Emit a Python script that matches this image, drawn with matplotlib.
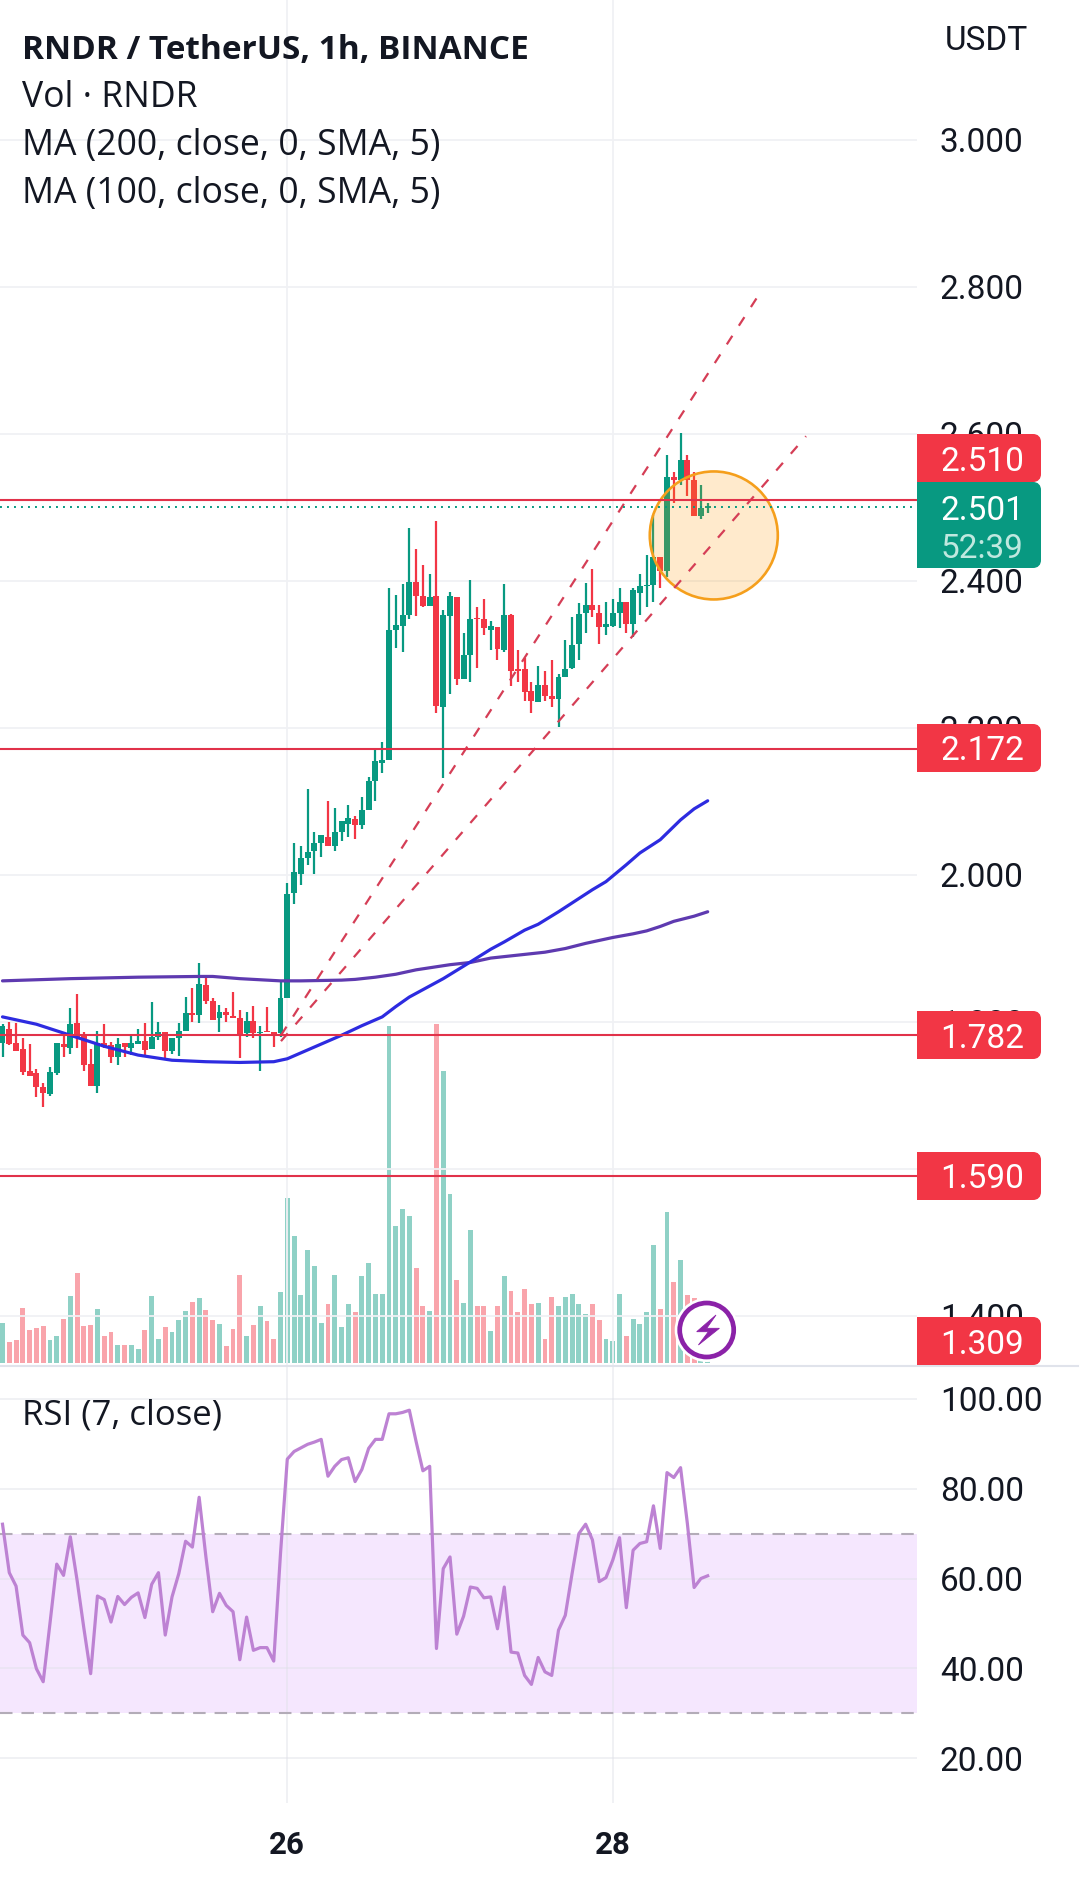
import matplotlib
matplotlib.use("Agg")
import matplotlib.pyplot as plt
from matplotlib.patches import Ellipse, FancyBboxPatch, Rectangle, Circle, Polygon
from matplotlib.transforms import ScaledTranslation

# ---------- data ----------
opens = [1.772,1.791,1.771,1.763,1.733,1.730,1.711,1.702,1.730,1.770,
         1.765,1.798,1.782,1.743,1.713,1.771,1.769,1.753,1.771,1.765,
         1.770,1.774,1.763,1.779,1.786,1.760,1.778,1.788,1.812,1.809,
         1.850,1.828,1.805,1.814,1.808,1.806,1.785,1.802,1.785,1.788,
         1.786,1.785,1.832,1.975,2.002,2.023,2.033,2.044,2.052,2.040,
         2.058,2.070,2.076,2.068,2.088,2.128,2.153,2.156,2.333,2.339,
         2.354,2.398,2.379,2.366,2.380,2.229,2.353,2.378,2.267,2.299,
         2.349,2.348,2.334,2.337,2.306,2.354,2.280,2.280,2.250,2.236,
         2.258,2.244,2.239,2.269,2.281,2.314,2.356,2.368,2.357,2.337,
         2.339,2.356,2.371,2.341,2.384,2.393,2.394,2.433,2.413,2.541,
         2.537,2.564,2.538,2.488,2.500]
closes = [1.794,1.770,1.761,1.732,1.727,1.711,1.703,1.732,1.771,1.766,
          1.797,1.779,1.742,1.713,1.772,1.766,1.753,1.770,1.766,1.771,
          1.774,1.762,1.779,1.786,1.761,1.778,1.788,1.812,1.809,1.852,
          1.828,1.803,1.814,1.809,1.806,1.782,1.802,1.785,1.787,1.786,
          1.781,1.832,1.974,2.004,2.023,2.031,2.044,2.054,2.039,2.058,
          2.074,2.077,2.068,2.088,2.128,2.155,2.157,2.334,2.340,2.354,
          2.399,2.379,2.366,2.378,2.230,2.354,2.380,2.267,2.299,2.349,
          2.348,2.336,2.339,2.307,2.354,2.278,2.278,2.249,2.237,2.258,
          2.243,2.239,2.269,2.280,2.313,2.355,2.368,2.360,2.338,2.341,
          2.356,2.372,2.341,2.388,2.393,2.395,2.432,2.414,2.541,2.538,
          2.565,2.538,2.488,2.499,2.502]
highs = [1.797,1.800,1.798,1.778,1.770,1.736,1.717,1.739,1.771,1.787,
         1.819,1.838,1.786,1.763,1.788,1.797,1.773,1.778,1.771,1.782,
         1.790,1.798,1.827,1.800,1.786,1.778,1.798,1.834,1.846,1.880,
         1.864,1.833,1.823,1.819,1.841,1.817,1.813,1.822,1.794,1.820,
         1.786,1.855,1.989,2.043,2.039,2.117,2.058,2.054,2.101,2.091,
         2.074,2.095,2.080,2.106,2.134,2.172,2.181,2.390,2.381,2.396,
         2.472,2.443,2.422,2.410,2.481,2.360,2.385,2.378,2.329,2.401,
         2.364,2.375,2.346,2.337,2.396,2.355,2.306,2.295,2.262,2.284,
         2.278,2.292,2.273,2.320,2.351,2.370,2.397,2.416,2.368,2.372,
         2.375,2.390,2.372,2.390,2.409,2.436,2.490,2.433,2.571,2.549,
         2.601,2.571,2.549,2.531,2.506]
lows = [1.752,1.769,1.760,1.728,1.727,1.698,1.685,1.700,1.728,1.753,
        1.756,1.764,1.734,1.713,1.703,1.765,1.744,1.742,1.752,1.755,
        1.770,1.753,1.763,1.776,1.748,1.756,1.754,1.788,1.800,1.798,
        1.824,1.803,1.787,1.800,1.806,1.751,1.779,1.778,1.734,1.786,
        1.766,1.779,1.832,1.961,1.986,2.014,2.002,2.025,2.039,2.032,
        2.046,2.052,2.049,2.063,2.088,2.101,2.139,2.156,2.309,2.304,
        2.348,2.353,2.364,2.366,2.221,2.132,2.246,2.259,2.267,2.263,
        2.282,2.327,2.306,2.293,2.303,2.257,2.263,2.237,2.221,2.236,
        2.237,2.228,2.202,2.269,2.280,2.292,2.329,2.351,2.314,2.326,
        2.337,2.336,2.329,2.324,2.354,2.365,2.372,2.391,2.406,2.506,
        2.531,2.516,2.488,2.484,2.492]
volumes = [40,21,23,55,33,35,37,23,27,44,67,90,37,38,54,27,31,18,18,18,
           14,33,67,24,36,31,43,52,61,65,53,43,39,17,34,88,27,38,57,42,
           24,71,165,127,68,113,97,40,59,88,36,59,51,87,100,69,69,337,137,154,
           147,95,57,52,339,292,169,83,60,133,57,57,32,57,87,72,51,74,59,60,
           24,66,57,66,69,59,49,59,43,24,22,69,27,44,39,51,118,54,151,81,
           103,68,65,10,2]
rsi = [72.1,61.3,58.3,47.4,45.7,39.9,37.0,50.0,63.2,60.7,
       69.3,59.6,48.9,38.8,56.1,55.3,50.3,56.0,54.2,55.8,
       56.8,51.3,58.7,61.3,47.4,55.9,61.1,68.3,67.0,78.1,
       64.8,52.6,56.7,54.0,52.6,41.9,51.4,44.0,44.6,44.6,
       41.6,65.6,86.6,88.3,89.1,89.9,90.4,91.0,82.8,85.0,
       86.5,86.9,81.6,84.3,89.0,91.0,91.0,96.7,96.7,97.0,
       97.5,90.5,84.0,85.0,44.4,62.2,64.8,47.6,51.6,58.1,
       57.8,55.7,55.9,48.8,58.1,43.6,43.4,38.4,36.4,42.4,
       39.2,38.4,48.5,51.8,61.1,70.0,72.1,68.6,59.3,60.2,
       64.1,69.1,53.5,66.3,67.8,68.2,76.2,66.7,83.6,82.5,
       84.7,72.3,58.0,60.0,60.6]
ma100_idx = [0,5,10,15,20,25,30,35,40,42,45,50,53,56,58,60,62,65,68,72,74,77,79,82,84,87,89,92,94,97,98,100,102,104]
ma100 = [1.807,1.797,1.782,1.767,1.755,1.748,1.746,1.745,1.746,1.750,1.762,1.782,1.795,1.807,
         1.821,1.834,1.844,1.859,1.876,1.899,1.909,1.925,1.933,1.950,1.962,1.980,1.991,2.014,
         2.030,2.048,2.057,2.075,2.090,2.101]
ma200_idx = [0,10,20,29,31,35,41,44,50,52,55,58,61,66,69,72,76,80,83,86,90,93,95,97,99,102,104]
ma200 = [1.856,1.859,1.861,1.862,1.862,1.859,1.856,1.856,1.857,1.858,1.861,1.865,1.871,1.878,
         1.881,1.887,1.891,1.895,1.900,1.907,1.915,1.920,1.924,1.930,1.937,1.944,1.950]
trend_upper_idx = [41.07,112.0]
trend_upper = [1.782,2.796]
trend_lower_idx = [41.07,118.5]
trend_lower = [1.774,2.597]
circle_center = (104.9,2.462)
levels = [2.510,2.172,1.782,1.590]
last_price = 2.501
price_ticks = [3.0,2.8,2.6,2.4,2.2,2.0,1.8,1.6,1.4]
rsi_ticks = [100,80,60,40,20]
rsi_band = [30,70]
date_idx = [42,90]
date_labels = ["26","28"]
legend_lines = ["Vol · RNDR","MA (200, close, 0, SMA, 5)","MA (100, close, 0, SMA, 5)"]

UP, DOWN = "#089981", "#F23645"
GRID = "#f0f1f4"
INK = "#131722"
W, H = 1080, 1882
PANE_R, SEP, PANE_B = 917, 1366, 1803

fig = plt.figure(figsize=(W/100, H/100), dpi=100, facecolor="white")
def rect(top, bottom):
    return [0, 1-bottom/H, PANE_R/W, (bottom-top)/H]

XLIM = (-0.37, 134.87)
ax_vol = fig.add_axes(rect(0, SEP), zorder=1)
ax = fig.add_axes(rect(0, SEP), zorder=2)
ax_rsi = fig.add_axes(rect(SEP, PANE_B), zorder=2)
top = fig.add_axes([0, 0, 1, 1], zorder=5)
top.set_xlim(0, W); top.set_ylim(H, 0); top.axis("off"); top.patch.set_alpha(0)

# volume
ax_vol.set_xlim(*XLIM); ax_vol.set_ylim(-3.3, 1362.7); ax_vol.axis("off")
xs = list(range(len(opens)))
colors = [UP if c >= o else DOWN for o, c in zip(opens, closes)]
ax_vol.bar(xs, volumes, width=0.72, color=colors, alpha=0.45, linewidth=0)

# price pane
ax.set_xlim(*XLIM); ax.set_ylim(1.3320, 3.1905); ax.patch.set_alpha(0)
for s in ax.spines.values(): s.set_visible(False)
ax.yaxis.tick_right(); ax.set_yticks(price_ticks)
ax.set_yticklabels([f"{t:.3f}" for t in price_ticks], fontfamily="Roboto", fontsize=24, color=INK)
ax.tick_params(axis="y", length=0, pad=16.5)
for lb in ax.get_yticklabels():
    lb.set_transform(lb.get_transform() + ScaledTranslation(0, 1/100, fig.dpi_scale_trans))
ax.set_xticks(date_idx); ax.tick_params(axis="x", length=0, labelbottom=False)
ax.grid(True, color=GRID, lw=1.3); ax.set_axisbelow(True)

ax.vlines(xs, lows, highs, colors=colors, lw=1.6, zorder=3)
bottoms = [min(o, c) for o, c in zip(opens, closes)]
heights = [max(abs(o-c), 0.002) for o, c in zip(opens, closes)]
ax.bar(xs, heights, bottom=bottoms, width=0.88, color=colors, linewidth=0, zorder=4)
ax.plot(ma200_idx, ma200, color="#5e3ab0", lw=2.3, zorder=5, solid_capstyle="round", solid_joinstyle="round")
ax.plot(ma100_idx, ma100, color="#2d2be0", lw=2.3, zorder=5, solid_capstyle="round", solid_joinstyle="round")
ax.add_patch(Ellipse(circle_center, 128/6.78, 128/735, facecolor=(1, 0.596, 0, 0.2),
                     edgecolor="#f59f1c", lw=1.9, zorder=6))
for xv, yv in ((trend_upper_idx, trend_upper), (trend_lower_idx, trend_lower)):
    ax.plot(xv, yv, color="#d53e56", lw=1.6, ls=(0, (4.6, 5.4)), zorder=6)
for lv in levels:
    ax.axhline(lv, color="#e1324a", lw=1.5, zorder=7)
ax.axhline(last_price, color=UP, lw=1.4, ls=(0, (1, 2.6)), zorder=6)

# RSI pane
ax_rsi.set_xlim(*XLIM); ax_rsi.set_ylim(9.98, 107.35); ax_rsi.patch.set_alpha(0)
for s in ax_rsi.spines.values(): s.set_visible(False)
ax_rsi.axhspan(rsi_band[0], rsi_band[1], color="#f5e7fe", lw=0, zorder=0)
ax_rsi.yaxis.tick_right(); ax_rsi.set_yticks(rsi_ticks)
ax_rsi.set_yticklabels([f"{t:.2f}" for t in rsi_ticks], fontfamily="Roboto", fontsize=24, color=INK)
ax_rsi.tick_params(axis="y", length=0, pad=16.5)
ax_rsi.set_xticks(date_idx); ax_rsi.set_xticklabels([])
ax_rsi.tick_params(axis="x", length=0)
ax_rsi.grid(True, color="#dfe1e8", alpha=0.5, lw=1.3, zorder=1); ax_rsi.set_axisbelow(True)
for b in rsi_band:
    ax_rsi.axhline(b, color="#b3acb8", lw=1.5, ls=(0, (6.0, 4.3)), zorder=2)
ax_rsi.plot(xs, rsi, color="#bd82d3", lw=2.3, zorder=3)

# overlay: separator, texts, price labels, button
top.plot([0, 1078], [SEP, SEP], color="#e0e3eb", lw=1.5)
def T(x, y, s, **k):
    k.setdefault("color", INK)
    return top.text(x, y, s, **k)
T(22, 59, "RNDR / TetherUS, 1h, BINANCE", family="Open Sans", fontweight="bold", fontsize=24.05, va="baseline")
for yy, s in zip((107, 155, 203), legend_lines):
    T(22, yy, s, family="Open Sans", fontsize=25.6, va="baseline")
T(22, 1425, "RSI (7, close)", family="Open Sans", fontsize=25.0, va="baseline")
T(945, 37, "USDT", family="Roboto", fontsize=24, va="center_baseline")
for i, lab in zip(date_idx, date_labels):
    x_px = (i-XLIM[0])/(XLIM[1]-XLIM[0])*PANE_R
    T(x_px, 1842, lab, family="Roboto", fontweight="bold", fontsize=22.5, ha="center", va="center_baseline")

def tag(y0, y1, col):
    top.add_patch(FancyBboxPatch((923, y0+4), 114, y1-y0-8, boxstyle="round,pad=0,rounding_size=4",
                                 mutation_aspect=1, facecolor=col, edgecolor=col, lw=5.76, zorder=3))
    top.add_patch(Rectangle((917, y0), 20, y1-y0, facecolor=col, lw=0, zorder=3))

label_values = ["2.510","2.172","1.782","1.590","1.309"]
label_tops = [434, 724, 1011, 1152, 1317]
for s, y0 in zip(label_values, label_tops):
    tag(y0, y0+48, DOWN)
    T(940.5, y0+24, s, color="white", family="Roboto", fontsize=24, va="center_baseline", zorder=4)
tag(482, 568, UP)
T(940.5, 507, "2.501", color="white", family="Roboto", fontsize=24, va="center_baseline", zorder=4)
T(940.5, 546, "52:39", color="#bfe8df", family="Roboto", fontsize=24, va="center_baseline", zorder=4)

BC = (706.7, 1330)
top.add_patch(Circle(BC, 32, facecolor="white", lw=0, zorder=4))
top.add_patch(Circle(BC, 27, facecolor="white", edgecolor="#8b22a8", lw=3.4, zorder=5))
bolt = [(9.3,-15),(-10,1.7),(1.7,1.7),(-8.3,15),(12.7,-1.7),(0,-1.7)]
top.add_patch(Polygon([(BC[0]+a, BC[1]+b) for a, b in bolt], closed=True, facecolor="#8b22a8",
                      edgecolor="#8b22a8", lw=0.6, zorder=6))

fig.savefig("out.png", dpi=100)
